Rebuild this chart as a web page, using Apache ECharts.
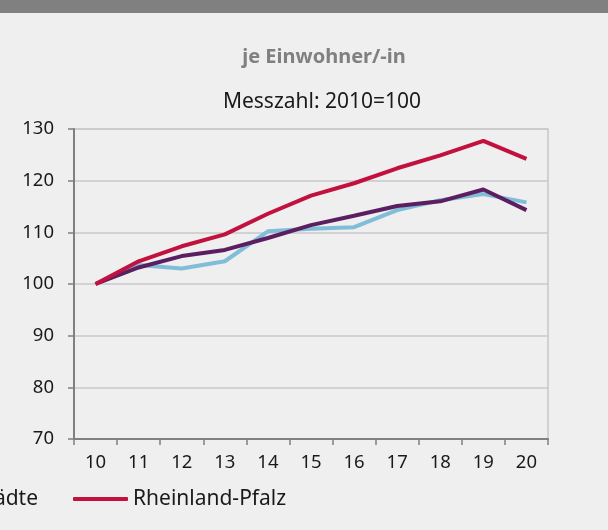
<!DOCTYPE html>
<html>
<head>
<meta charset="utf-8">
<script src="https://cdn.jsdelivr.net/npm/echarts@6/dist/echarts.min.js"></script>
<style>
  html, body { margin: 0; padding: 0; background: #eeefee; }
  #chart { width: 608px; height: 530px; }
</style>
</head>
<body>
<div id="chart"></div>
<script>
// Jahre (20xx)
var years = ['10', '11', '12', '13', '14', '15', '16', '17', '18', '19', '20']
// Messzahl 2010=100
var kreisfreieStaedte = [100, 103.7, 103.0, 104.4, 110.2, 110.7, 111.0, 114.3, 116.2, 117.4, 115.8]
var landkreise = [100, 103.2, 105.4, 106.6, 108.9, 111.4, 113.2, 115.1, 116.0, 118.3, 114.3]
var rheinlandPfalz = [100, 104.4, 107.3, 109.6, 113.6, 117.1, 119.5, 122.4, 124.9, 127.7, 124.2]
var legendNames = ['Landkreise', 'Kreisfreie Städte', 'Rheinland-Pfalz']

var fontFamily = '"Noto Sans", "Open Sans", sans-serif'

// Legende ist links abgeschnitten: "Rheinland-Pfalz" soll bei x=73 beginnen
var legendFont = 21
var iconW = 55
var legendGap = 35
var ctx = document.createElement('canvas').getContext('2d')
ctx.font = legendFont + 'px ' + fontFamily
var legendLeft = 73
for (var i = 0; i < legendNames.length - 1; i++) {
  legendLeft -= iconW + 5 + ctx.measureText(legendNames[i]).width + legendGap
}

var myChart = echarts.init(document.getElementById('chart'))
myChart.setOption({
  backgroundColor: '#eeefee',
  textStyle: { fontFamily: fontFamily },
  animation: false,
  graphic: [
    // grauer Balken oben
    { type: 'rect', left: 0, top: 0, shape: { width: 608, height: 13 }, style: { fill: '#808080' } }
  ],
  title: [
    {
      text: 'je Einwohner/-in',
      left: 324,
      top: 47,
      padding: 0,
      textAlign: 'center',
      textStyle: { fontSize: 20, fontWeight: 'bold', color: '#808080', fontFamily: fontFamily }
    },
    {
      text: 'Messzahl: 2010=100',
      left: 322,
      top: 92,
      padding: 0,
      textAlign: 'center',
      textStyle: { fontSize: 21, fontWeight: 'normal', color: '#1a1a1a', fontFamily: fontFamily }
    }
  ],
  legend: {
    data: legendNames,
    left: legendLeft,
    top: 487,
    padding: 0,
    itemWidth: iconW,
    itemHeight: 4,
    itemGap: legendGap,
    icon: 'roundRect',
    textStyle: { fontSize: legendFont, color: '#1a1a1a', lineHeight: 24 }
  },
  grid: {
    left: 74,
    top: 129,
    width: 474,
    height: 310,
    show: true,
    borderColor: '#c8c8c8',
    borderWidth: 1.5,
    backgroundColor: 'transparent'
  },
  xAxis: {
    type: 'category',
    data: years,
    boundaryGap: true,
    axisLine: { lineStyle: { color: '#808080', width: 2 } },
    axisTick: { show: true, length: 6, interval: 0, lineStyle: { color: '#808080', width: 1.5 } },
    axisLabel: { interval: 0, margin: 14, fontSize: 18.5, color: '#1a1a1a' },
    splitLine: { show: false }
  },
  yAxis: {
    type: 'value',
    min: 70,
    max: 130,
    interval: 10,
    axisLine: { show: true, lineStyle: { color: '#808080', width: 2 } },
    axisTick: { show: true, length: 6, lineStyle: { color: '#808080', width: 1.5 } },
    axisLabel: { margin: 20, fontSize: 18.5, color: '#1a1a1a' },
    splitLine: { lineStyle: { color: '#c8c8c8', width: 1.5 } }
  },
  series: [
    {
      name: 'Kreisfreie Städte',
      type: 'line',
      data: kreisfreieStaedte,
      symbol: 'none',
      itemStyle: { color: '#80bdd9' },
      lineStyle: { color: '#80bdd9', width: 4 }
    },
    {
      name: 'Landkreise',
      type: 'line',
      data: landkreise,
      symbol: 'none',
      itemStyle: { color: '#5b1f61' },
      lineStyle: { color: '#5b1f61', width: 4 }
    },
    {
      name: 'Rheinland-Pfalz',
      type: 'line',
      data: rheinlandPfalz,
      symbol: 'none',
      itemStyle: { color: '#c2113f' },
      lineStyle: { color: '#c2113f', width: 4 }
    }
  ]
})
</script>
</body>
</html>
